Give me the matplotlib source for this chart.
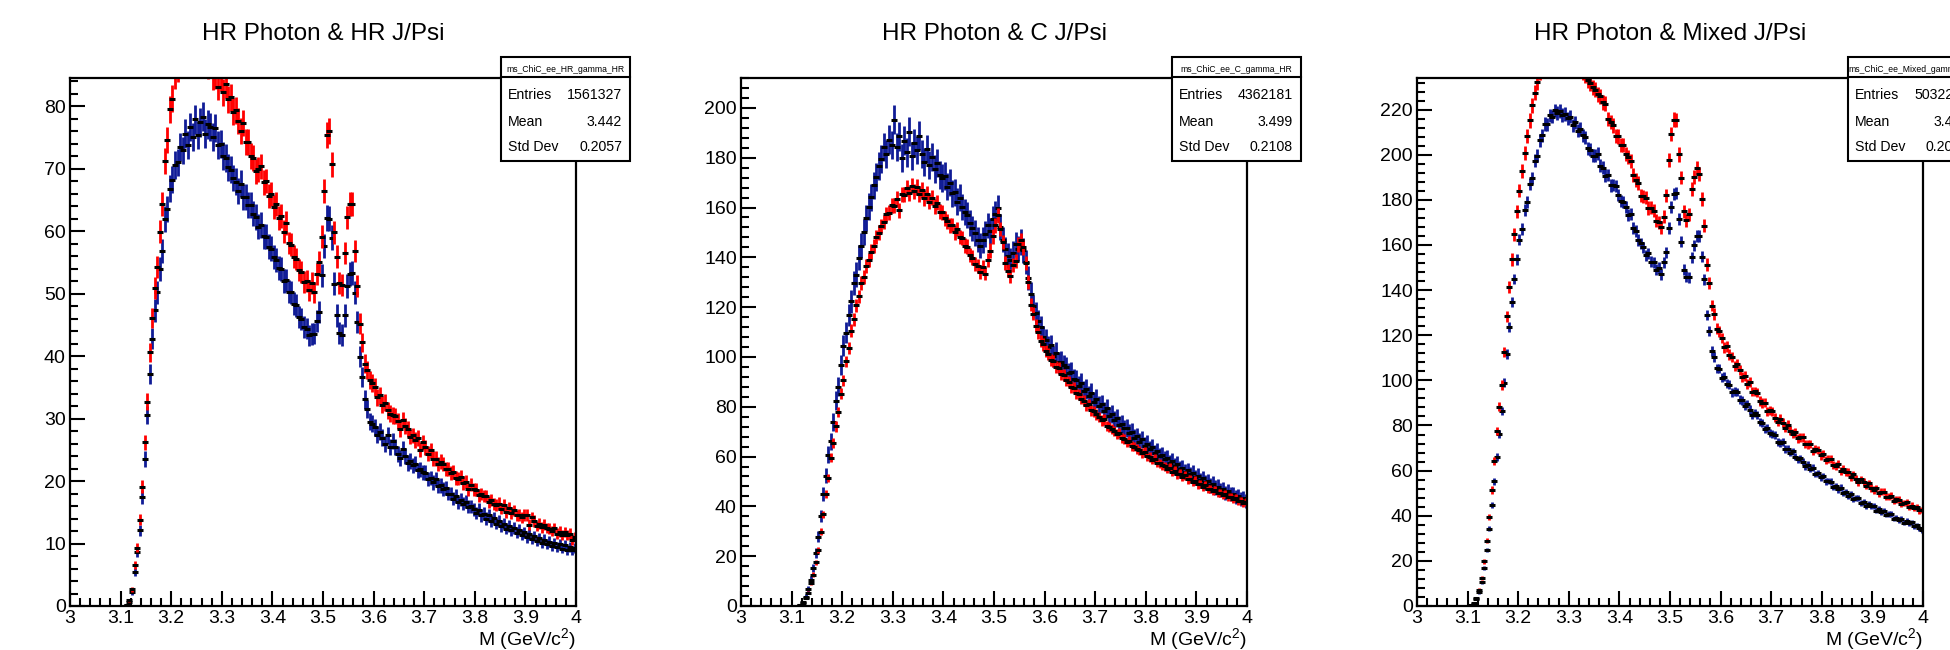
import numpy as np
import matplotlib
matplotlib.use('Agg')
import matplotlib.pyplot as plt
from matplotlib.patches import Rectangle
from matplotlib.ticker import MultipleLocator, FuncFormatter

plt.rcParams['font.family'] = ['Liberation Sans', 'DejaVu Sans']
plt.rcParams['mathtext.default'] = 'regular'

# histogram binning: 0.005 GeV/c^2 bins from 3.10 to 4.00
bin_lo, bin_hi, n_bins = 3.10, 4.00, 180

titles = ['HR Photon & HR J/Psi', 'HR Photon & C J/Psi', 'HR Photon & Mixed J/Psi']
hist_names = ['ms_ChiC_ee_HR_gamma_HR', 'ms_ChiC_ee_C_gamma_HR', 'ms_ChiC_ee_Mixed_gamma_HR']
entries = ['1561327', '4362181', '5032214']
means = ['3.442', '3.499', '3.463']
std_devs = ['0.2057', '0.2108', '0.2046']
y_max = [84.5, 212.0, 234.0]
y_major = [10, 20, 20]
x_label = 'M (GeV/c$^{2}$)'

# relative size of the error bars (err = k * sqrt(content))
err_k_red = [0.24, 0.24, 0.22]
err_k_blue = [0.26, 0.42, 0.20]

hr_hr_red = [
    0, 0, 0.2, 0.9, 2.7, 6.6, 9.3, 13.8, 19.1, 26.2,
    32.7, 40.6, 46.1, 50.9, 54.2, 59.9, 64.3, 71.2, 74.6, 79.5,
    81.2, 84.9, 86.1, 88.6, 88.7, 90.5, 89.8, 91.0, 90.1, 90.3,
    89.4, 89.8, 88.1, 88.4, 86.6, 86.9, 84.8, 85.0, 83.1, 84.6,
    82.2, 83.5, 81.1, 81.4, 79.1, 79.3, 77.6, 76.0, 77.3, 74.2,
    74.3, 72.0, 71.7, 69.6, 69.9, 70.4, 67.8, 68.0, 65.6, 65.9,
    63.9, 64.3, 62.1, 62.4, 59.9, 61.3, 58.1, 57.8, 55.9, 55.5,
    53.8, 53.4, 51.9, 52.0, 50.5, 51.7, 50.2, 53.2, 55.0, 59.1,
    66.4, 75.3, 76.0, 70.7, 59.8, 55.9, 51.7, 51.4, 56.5, 62.2,
    64.3, 64.4, 56.8, 51.2, 45.2, 42.2, 38.8, 37.8, 36.1, 35.7,
    35.0, 33.4, 33.7, 32.2, 32.5, 31.3, 30.8, 30.5, 30.4, 29.6,
    28.3, 29.8, 28.8, 28.4, 27.1, 27.3, 26.6, 26.9, 25.0, 26.2,
    25.4, 24.4, 24.9, 23.6, 23.6, 22.7, 23.1, 22.7, 21.9, 21.9,
    21.3, 21.5, 20.5, 20.4, 20.6, 19.7, 19.9, 18.7, 19.4, 18.7,
    18.6, 17.7, 17.9, 17.6, 17.6, 16.7, 17.0, 16.3, 16.1, 16.4,
    15.6, 16.1, 15.0, 15.7, 14.9, 15.3, 14.5, 14.6, 14.2, 14.6,
    14.6, 13.0, 14.2, 13.6, 12.8, 13.2, 12.6, 13.0, 12.5, 12.4,
    12.0, 12.5, 11.6, 11.9, 11.4, 11.8, 11.3, 11.6, 10.6, 11.0,
]
hr_hr_blue = [
    0, 0, 0.1, 0.6, 2.2, 5.4, 8.6, 12.1, 17.4, 23.5,
    30.6, 37.1, 42.8, 47.3, 50.2, 53.9, 56.8, 61.9, 63.6, 66.8,
    68.2, 70.6, 71.0, 73.4, 72.9, 75.6, 73.8, 76.7, 75.1, 77.9,
    75.4, 77.4, 78.3, 75.6, 77.1, 76.7, 75.0, 76.5, 73.8, 74.0,
    72.0, 71.7, 70.2, 69.8, 68.5, 67.9, 66.4, 67.6, 65.5, 65.4,
    64.2, 64.1, 62.8, 62.3, 60.7, 61.0, 59.2, 59.1, 57.5, 57.2,
    55.8, 55.4, 54.1, 53.9, 52.0, 52.1, 50.3, 50.2, 48.4, 48.1,
    46.3, 46.0, 44.6, 44.4, 43.3, 43.5, 43.6, 45.6, 47.1, 52.9,
    57.6, 62.1, 62.0, 58.9, 51.6, 46.5, 43.7, 43.4, 46.5, 51.2,
    53.1, 53.3, 50.1, 45.4, 39.9, 36.6, 33.1, 31.5, 29.5, 29.2,
    28.6, 27.4, 27.9, 26.9, 25.9, 27.3, 25.4, 26.4, 25.4, 24.4,
    23.7, 25.1, 24.0, 22.9, 23.2, 22.5, 22.8, 21.7, 21.9, 21.4,
    21.3, 20.3, 20.5, 19.8, 20.3, 19.2, 19.3, 18.7, 18.9, 18.0,
    18.0, 17.2, 17.6, 16.6, 17.0, 16.4, 16.7, 15.9, 16.0, 15.5,
    14.9, 15.4, 14.5, 14.8, 14.0, 14.5, 13.6, 14.1, 13.2, 13.6,
    12.8, 13.2, 12.4, 12.8, 12.1, 12.5, 11.7, 12.2, 11.4, 11.8,
    11.0, 11.5, 10.7, 11.2, 10.4, 10.9, 10.1, 10.6, 9.9, 10.3,
    9.6, 10.1, 9.4, 9.9, 9.2, 9.7, 9.0, 9.5, 8.9, 9.3,
]
hr_c_red = [
    0, 0, 0, 0.3, 1.1, 3.2, 5.4, 9.1, 12.6, 17.5,
    22.6, 29.9, 36.8, 44.9, 51.4, 59.6, 65.4, 72.1, 77.9, 85.3,
    90.6, 98.2, 103.7, 110.6, 115.2, 120.8, 124.3, 129.6, 132.2, 136.4,
    138.8, 142.3, 144.6, 148.1, 149.9, 152.6, 154.2, 157.3, 157.8, 160.9,
    160.8, 163.4, 158.9, 165.3, 165.2, 167.9, 165.7, 168.8, 166.5, 168.2,
    165.5, 167.1, 163.8, 165.6, 162.4, 164.0, 160.5, 161.9, 158.3, 158.1,
    155.7, 154.5, 152.8, 153.0, 150.0, 151.4, 148.2, 147.8, 144.7, 144.3,
    140.8, 139.9, 137.2, 136.7, 134.1, 136.3, 133.5, 139.1, 142.7, 148.4,
    152.8, 156.9, 151.4, 146.1, 137.7, 134.7, 132.6, 136.9, 138.5, 145.2,
    146.8, 144.0, 137.6, 130.1, 121.0, 117.3, 112.5, 109.9, 106.4, 105.0,
    102.3, 101.3, 98.8, 98.4, 95.9, 95.6, 93.0, 92.7, 90.6, 90.1,
    87.9, 87.6, 85.4, 85.1, 83.3, 82.4, 80.6, 81.0, 78.5, 78.1,
    76.9, 75.8, 74.5, 74.9, 72.3, 72.0, 71.1, 70.2, 69.1, 69.4,
    67.4, 67.0, 65.7, 66.3, 64.2, 64.0, 63.1, 62.5, 61.4, 61.9,
    60.1, 59.8, 58.7, 59.2, 57.5, 57.4, 56.6, 56.1, 55.2, 55.6,
    54.0, 54.3, 52.9, 53.1, 51.8, 52.4, 50.8, 50.9, 49.7, 50.3,
    48.8, 48.9, 47.9, 48.5, 47.0, 47.1, 46.1, 46.6, 45.2, 45.4,
    44.4, 44.9, 43.6, 43.7, 42.8, 43.3, 42.1, 42.2, 41.4, 41.9,
]
hr_c_blue = [
    0, 0, 0, 0.4, 1.6, 3.8, 6.9, 10.6, 15.4, 21.3,
    27.8, 36.1, 44.9, 52.3, 60.8, 66.2, 73.9, 82.4, 88.1, 96.7,
    104.5, 109.8, 116.9, 122.3, 129.6, 133.1, 139.8, 144.6, 150.2, 155.8,
    160.4, 164.1, 168.9, 172.3, 176.8, 179.5, 184.2, 181.6, 187.3, 185.1,
    195.3, 184.4, 188.6, 179.8, 186.9, 182.1, 190.4, 180.7, 185.9, 183.2,
    188.9, 181.4, 178.3, 183.6, 177.2, 180.4, 175.6, 177.9, 173.1, 171.8,
    172.6, 168.4, 169.9, 165.7, 166.2, 162.4, 163.9, 160.3, 158.2, 156.9,
    153.8, 151.6, 149.7, 147.1, 144.6, 146.9, 149.3, 152.8, 150.6, 155.2,
    157.4, 159.9, 152.3, 147.1, 143.2, 140.6, 138.9, 141.7, 145.2, 143.4,
    146.1, 142.8, 138.1, 131.6, 125.3, 120.4, 117.6, 114.3, 111.9, 108.2,
    106.8, 104.1, 104.6, 100.2, 101.7, 97.9, 98.1, 96.8, 95.9, 93.6,
    93.8, 91.2, 90.9, 88.4, 89.6, 86.5, 87.2, 84.3, 85.5, 82.1,
    83.3, 80.4, 81.1, 78.2, 79.3, 76.1, 77.2, 74.6, 75.4, 72.8,
    73.2, 71.3, 71.5, 69.4, 69.8, 67.6, 68.2, 66.0, 66.9, 64.3,
    65.2, 62.9, 63.8, 61.4, 62.3, 60.1, 60.7, 58.9, 59.4, 57.6,
    58.1, 56.3, 56.9, 55.2, 55.6, 53.9, 54.5, 52.8, 53.4, 51.7,
    52.2, 50.5, 51.3, 49.6, 50.0, 48.4, 49.1, 47.5, 47.9, 46.6,
    47.0, 45.5, 46.2, 44.8, 45.1, 43.7, 44.3, 42.9, 43.4, 42.1,
]
hr_mixed_red = [
    0, 0.3, 1.4, 3.6, 7.2, 12.5, 19.8, 28.9, 39.6, 51.4,
    64.2, 77.6, 88.4, 98.1, 112.6, 128.4, 141.2, 153.6, 164.7, 174.9,
    184.1, 192.8, 200.6, 208.3, 215.2, 221.9, 227.4, 232.1, 236.3, 239.6,
    242.8, 245.0, 246.9, 248.1, 248.8, 249.3, 248.9, 248.2, 247.0, 245.6,
    244.1, 242.3, 240.6, 239.0, 237.2, 236.4, 235.0, 233.1, 231.8, 229.9,
    228.8, 226.8, 225.9, 223.2, 222.6, 215.8, 214.4, 213.0, 208.2, 208.1,
    204.3, 204.3, 200.3, 199.2, 197.4, 190.9, 188.7, 187.4, 181.8, 181.6,
    180.9, 176.4, 176.6, 175.2, 170.7, 170.0, 167.9, 172.6, 182.0, 197.6,
    209.1, 215.6, 215.4, 200.1, 189.9, 175.0, 170.9, 173.6, 184.8, 190.0,
    194.2, 191.6, 180.4, 168.5, 151.3, 143.3, 133.1, 129.4, 122.9, 121.8,
    118.8, 114.7, 115.1, 111.4, 110.3, 106.4, 107.3, 104.6, 101.6, 102.0,
    98.5, 99.1, 95.0, 95.1, 94.6, 90.9, 90.0, 90.1, 86.2, 86.8,
    86.3, 83.5, 81.7, 83.0, 81.2, 79.1, 80.4, 77.7, 76.4, 77.0,
    74.3, 74.7, 74.8, 71.9, 71.6, 71.9, 68.6, 69.7, 69.1, 66.7,
    67.2, 64.5, 65.0, 65.1, 62.4, 62.1, 62.8, 59.9, 60.7, 59.4,
    59.3, 57.1, 58.3, 56.2, 55.0, 56.1, 54.9, 53.4, 54.4, 52.3,
    51.4, 52.2, 49.9, 50.6, 50.6, 48.4, 48.4, 48.8, 46.6, 47.3,
    47.1, 45.4, 45.7, 45.9, 43.8, 44.5, 43.4, 43.9, 42.4, 42.6,
]
hr_mixed_blue = [
    0, 0.2, 1.1, 2.9, 6.0, 10.6, 16.9, 24.8, 34.2, 44.6,
    55.3, 66.1, 76.2, 86.4, 98.9, 111.6, 123.8, 134.7, 144.9, 153.6,
    162.4, 167.1, 175.3, 179.0, 186.9, 189.8, 197.4, 199.6, 206.5, 208.7,
    213.6, 213.5, 217.5, 216.8, 219.7, 218.5, 219.3, 217.6, 218.0, 216.1,
    216.9, 213.1, 214.4, 210.7, 211.4, 208.6, 207.8, 202.9, 202.3, 199.6,
    199.6, 200.5, 195.1, 194.3, 190.7, 191.0, 186.4, 186.7, 186.0, 182.3,
    179.4, 179.1, 176.7, 173.2, 173.6, 167.6, 166.2, 162.1, 160.7, 159.0,
    155.5, 156.3, 152.6, 152.4, 149.1, 149.8, 147.0, 152.3, 156.8, 167.4,
    176.9, 182.7, 183.0, 171.4, 161.5, 149.1, 145.9, 145.7, 154.6, 159.8,
    164.1, 163.9, 154.8, 144.7, 129.1, 121.9, 113.0, 110.4, 105.3, 105.1,
    101.2, 101.6, 98.5, 98.1, 94.7, 95.1, 94.8, 91.4, 91.1, 88.8,
    89.6, 87.0, 84.8, 85.6, 84.7, 81.4, 81.0, 78.3, 78.8, 76.8,
    76.3, 75.6, 72.8, 72.2, 72.7, 69.5, 69.8, 68.0, 68.5, 66.2,
    65.0, 65.5, 64.0, 61.9, 62.6, 60.9, 61.3, 58.5, 58.8, 57.1,
    57.6, 55.3, 55.4, 55.1, 52.7, 53.0, 51.7, 52.4, 50.0, 50.4,
    48.9, 49.5, 47.4, 48.0, 47.9, 45.8, 45.9, 44.3, 45.3, 44.3,
    44.2, 42.3, 42.8, 41.6, 42.3, 40.5, 40.7, 40.7, 38.7, 39.2,
    38.2, 38.7, 37.0, 37.7, 36.6, 37.1, 35.3, 35.7, 34.5, 33.7,
]

red_hists = [hr_hr_red, hr_c_red, hr_mixed_red]
blue_hists = [hr_hr_blue, hr_c_blue, hr_mixed_blue]

W, H = 1950, 650
# frame of each pad, in pixels (left, right); top and bottom shared
frames = [(70, 576), (741, 1247), (1417, 1923)]
frame_top, frame_bottom = 78, 606


def fx(px):
    return px / W


def fy(py):
    return 1 - py / H


def draw_hist(ax, values, k, color):
    edges = np.linspace(bin_lo, bin_hi, n_bins + 1)
    centers = 0.5 * (edges[:-1] + edges[1:])
    v = np.array(values)
    keep = v > 0
    err = k * np.sqrt(v[keep])
    ax.errorbar(centers[keep], v[keep], yerr=err, fmt='none', ecolor=color,
                elinewidth=2.0, capsize=0)
    ax.plot(centers[keep], v[keep], ls='none', marker='_', color='black',
            ms=4.5, mew=2.2)


def stat_box(right_px, name, n, mean, sd):
    left = right_px - 75
    right = right_px + 54
    top, mid, bottom = 57, 77, 161
    fig.add_artist(Rectangle((fx(left), fy(bottom)), fx(right - left), (bottom - top) / H,
                             transform=fig.transFigure, facecolor='white',
                             edgecolor='black', lw=1.5, zorder=10))
    fig.add_artist(plt.Line2D([fx(left), fx(right)], [fy(mid), fy(mid)],
                              transform=fig.transFigure, color='black', lw=1.5, zorder=11))
    fig.text(fx((left + right) / 2), fy(69), name, fontsize=6.2, ha='center', va='center', zorder=12)
    rows = [('Entries', n, 95), ('Mean', mean, 122), ('Std Dev', sd, 147)]
    for label, val, y in rows:
        fig.text(fx(left + 7), fy(y), label, fontsize=10.2, ha='left', va='center', zorder=12)
        fig.text(fx(right - 8), fy(y), val, fontsize=10.2, ha='right', va='center', zorder=12)


fig = plt.figure(figsize=(W / 100, H / 100), dpi=100)

for i in range(3):
    l, r = frames[i]
    ax = fig.add_axes([fx(l), fy(frame_bottom), fx(r - l), (frame_bottom - frame_top) / H])
    draw_hist(ax, blue_hists[i], err_k_blue[i], '#101c96')
    draw_hist(ax, red_hists[i], err_k_red[i], '#ff0000')

    ax.set_xlim(3.0, 4.0)
    ax.set_ylim(0, y_max[i])
    ax.xaxis.set_major_locator(MultipleLocator(0.1))
    ax.xaxis.set_minor_locator(MultipleLocator(0.02))
    ax.yaxis.set_major_locator(MultipleLocator(y_major[i]))
    ax.yaxis.set_minor_locator(MultipleLocator(y_major[i] / 5))
    ax.xaxis.set_major_formatter(FuncFormatter(lambda v, p: '%g' % round(v, 2)))
    ax.tick_params(which='both', direction='in', top=False, right=False,
                   labelsize=14, width=1.5, pad=3)
    ax.tick_params(which='major', length=11)
    ax.tick_params(which='minor', length=5.5)
    for s in ax.spines.values():
        s.set_linewidth(1.6)

    fig.text(fx((l + r) / 2), fy(34), titles[i], fontsize=17.5, ha='center', va='center')
    fig.text(fx(r), fy(645), x_label, fontsize=14, ha='right', va='baseline')
    stat_box(r, hist_names[i], entries[i], means[i], std_devs[i])

fig.savefig('out.png', dpi=100)
